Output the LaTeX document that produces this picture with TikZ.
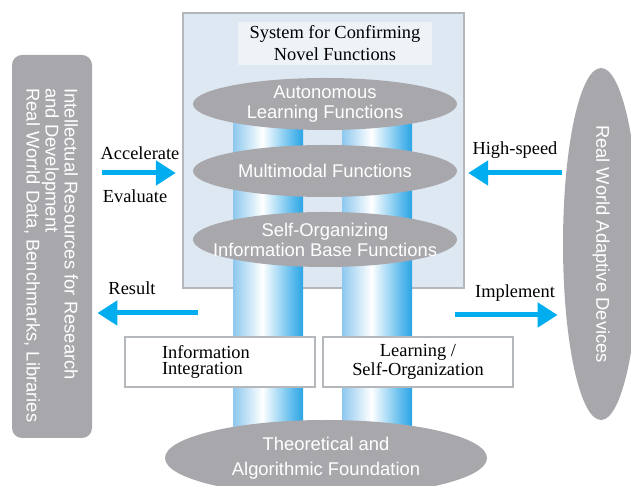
\documentclass[tikz,border=0pt]{standalone}
\usepackage{fontspec}
\setmainfont{Liberation Serif}
\setsansfont{Liberation Sans}
\usepackage{xcolor}
\usepackage{tikz}
\usetikzlibrary{arrows.meta, positioning, shapes.geometric}
\definecolor{ellgray}{HTML}{A8A7AC}
\definecolor{boxblue}{HTML}{DDE8F3}
\definecolor{titlefill}{HTML}{EEF3F8}
\definecolor{boxedge}{HTML}{B4B8BD}
\definecolor{flowblue}{HTML}{00AEEF}
\definecolor{pillarleft}{HTML}{8DC8EE}
\definecolor{pillarright}{HTML}{58B9EC}
\definecolor{pillaredge}{HTML}{2BA5E5}
\pgfdeclarehorizontalshading{pillarshade}{100bp}{color(0bp)=(pillarleft); color(25bp)=(pillarleft); color(46bp)=(white); color(68bp)=(pillarright); color(75bp)=(pillaredge); color(100bp)=(pillaredge)}

\begin{document}
\begin{tikzpicture}[x=0.5pt, y=0.5pt,
    serif/.style={font=\fontsize{9.2}{11}\selectfont, text=black, align=center},
    sanslabel/.style={font=\sffamily\fontsize{9.2}{10}\selectfont, text=white, align=center},
    grayell/.style={ellipse, fill=ellgray, inner sep=0pt},
    infobox/.style={draw=boxedge, line width=1pt, fill=white, minimum width=95pt,
      minimum height=25pt, inner sep=0pt, font=\fontsize{9.2}{8}\selectfont},
    flow/.style={draw=flowblue, line width=2.5pt, -{Triangle[length=10pt, width=12pt]}}]
    \useasboundingbox (0,0) rectangle (631,486);
    % Resources (left) and devices (right)
    \node[fill=ellgray, rounded corners=5pt, minimum width=40pt, minimum height=191.5pt]
      (resources) at (52,239.5) {};
    \node[sanslabel, rotate=-90, align=left, inner sep=0pt, anchor=west,
      font=\sffamily\fontsize{9.2}{9.5}\selectfont] (restext) at (51,398)
      {Intellectual Resources for Research\\and Development\\Real Worrld Data, Benchmarks, Libraries};
    \node[grayell, sanslabel, rotate=-90, minimum width=176pt, minimum height=38pt]
      (devices) at (601,242) {Real World Adaptive Devices};
    % System box
    \node[draw=boxedge, line width=1.2pt, fill=boxblue, minimum width=140.5pt,
      minimum height=137.5pt] (system) at (323.5,335.5) {};
    \node[serif, fill=titlefill, inner sep=0pt, minimum width=97pt, minimum height=21.5pt]
      (title) at (335,442.5) {System for Confirming\\Novel Functions};
    % Pillars
    \foreach \px in {233,342}
      \shade[shading=pillarshade] (\px,46) rectangle ++(70,325);
    % Function ellipses
    \node[grayell, minimum width=132pt, minimum height=26pt,
      label={[sanslabel]center:{Autonomous\\Learning Functions}}] (autonomous) at (325,382) {};
    \node[grayell, minimum width=132pt, minimum height=26pt,
      label={[sanslabel]center:{Multimodal Functions}}] (multimodal) at (325,315) {};
    \node[grayell, minimum width=132pt, minimum height=27.5pt,
      label={[sanslabel]center:{Self-Organizing\\Information Base Functions}}] (selforg) at (325,246.5) {};
    % Lower boxes and foundation
    \node[infobox, text width=58pt, inner xsep=18.5pt, align=left]
      (integration) at (220,124) {Information\\Integration};
    \node[infobox, align=center] (learning) at (418,124) {Learning /\\Self-Organization};
    \node[grayell, sanslabel, minimum width=161pt, minimum height=38pt,
      font=\sffamily\fontsize{9.2}{12.5}\selectfont] (theory) at (326,28)
      {Theoretical and\\Algorithmic Foundation};
    % Arrows
    \coordinate (accel) at (102,313);
    \draw[flow] ([xshift=5pt]resources.east |- accel) -- ([xshift=-3pt]system.west |- accel);
    \coordinate (result) at (198,173);
    \draw[flow] (result) -- ([xshift=2.5pt]resources.east |- result);
    \coordinate (speed) at (562,313);
    \draw[flow] (speed) -- ([xshift=1.5pt]system.east |- speed);
    \coordinate (impl) at (455,171);
    \draw[flow] (impl) -- ([xshift=-2.5pt]devices.south |- impl);
    % Arrow labels
    \node[serif] (accelerate) at (140,333) {Accelerate};
    \node[serif] (evaluate) at (135,290) {Evaluate};
    \node[serif] (resultlbl) at (132,197.5) {Result};
    \node[serif] (highspeed) at (515,335.5) {High-speed};
    \node[serif] (implement) at (515,192.5) {Implement};
  \end{tikzpicture}
\end{document}
